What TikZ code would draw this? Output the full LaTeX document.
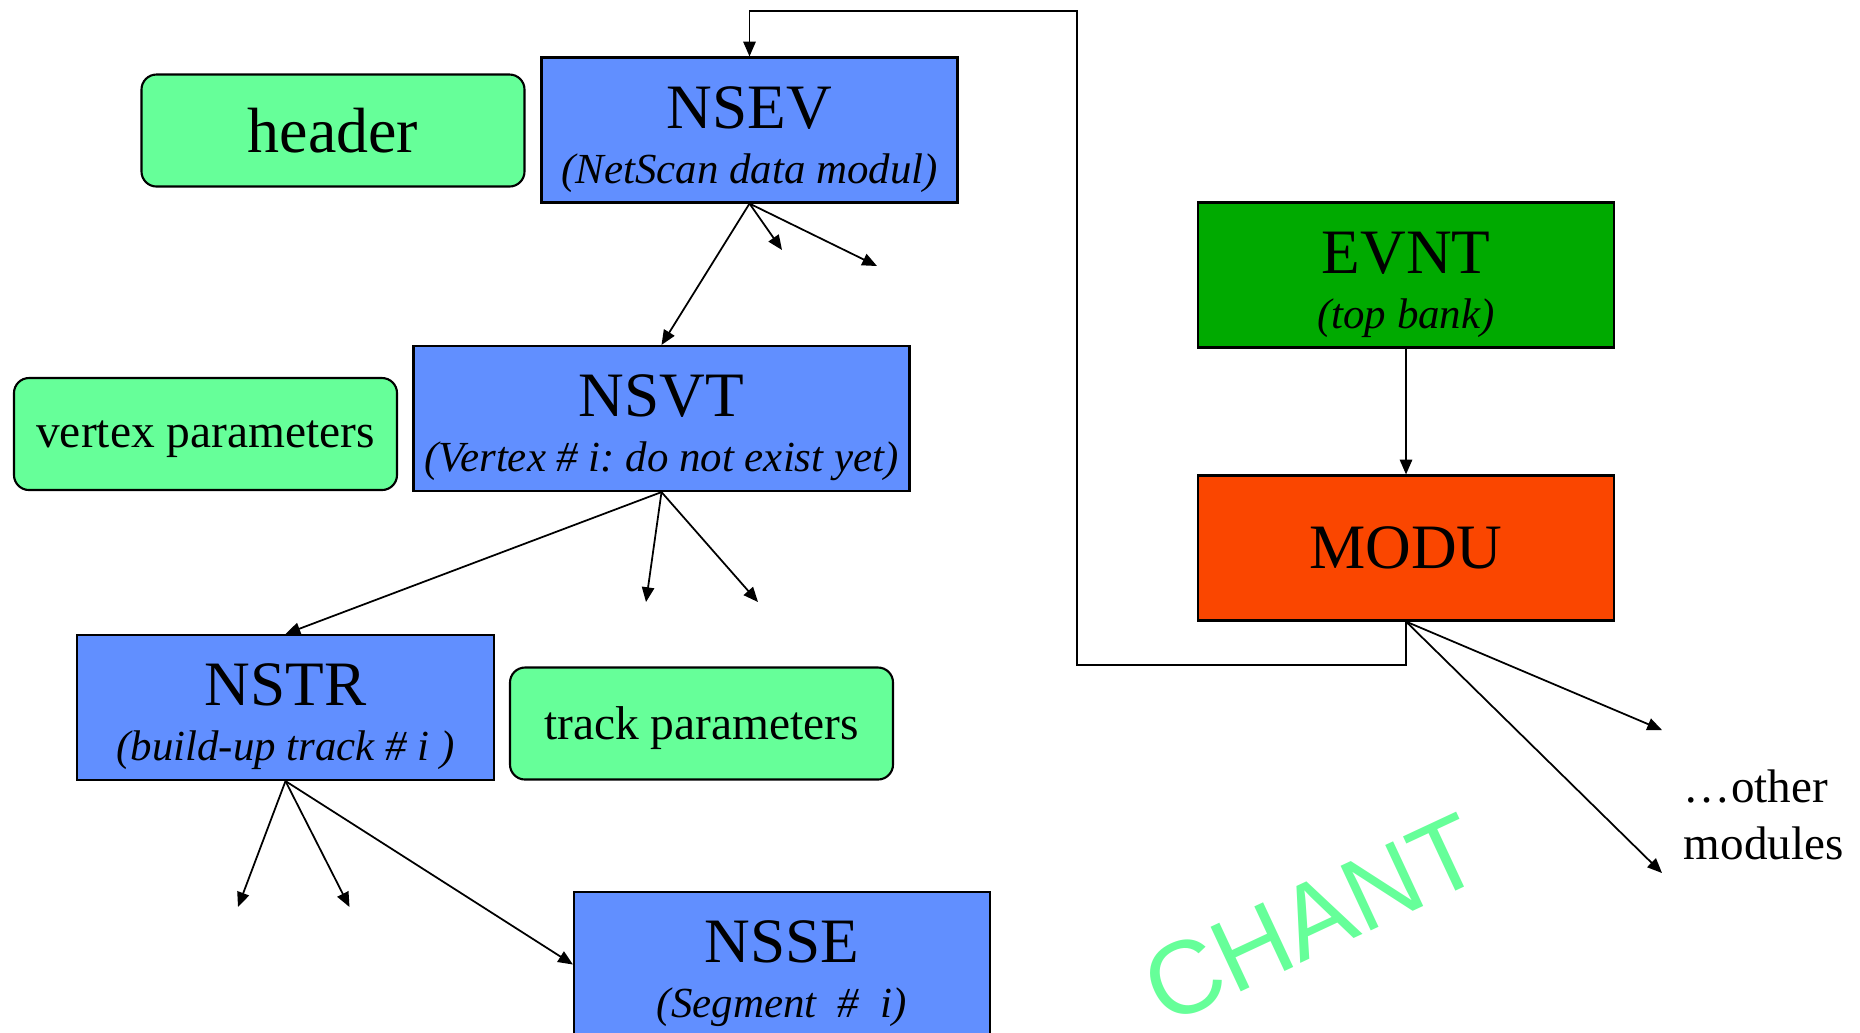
\documentclass[tikz,border=0pt]{standalone}
\usepackage{fontspec}
\setmainfont{Liberation Serif}
\newfontfamily\chantfont{Liberation Sans}
\usetikzlibrary{arrows.meta}
\definecolor{bankblue}{RGB}{97,143,255}
\definecolor{parmgreen}{RGB}{102,255,153}
\definecolor{evntgreen}{RGB}{0,170,0}
\definecolor{moduorange}{RGB}{250,70,0}
\newcommand\bankname[1]{{\upshape\fontsize{18}{15.65}\selectfont #1}}
\frenchspacing

\begin{document}
\begin{tikzpicture}[>={Triangle[length=4.2pt,width=3.5pt]},line width=0.5pt,
  bankbox/.style={draw,line width=0.6pt,fill=bankblue,minimum width=4.16cm,minimum height=1.45cm,inner sep=0pt},
  bank/.style={bankbox,align=center,text height=1.16cm,text depth=0.1cm,font=\fontsize{12.2}{15.65}\selectfont\itshape},
  parbox/.style={draw,line width=0.6pt,fill=parmgreen,rounded corners=0.15cm,minimum width=3.83cm,minimum height=1.12cm,inner sep=0pt,text depth=0pt,font=\fontsize{13.5}{16}\selectfont}]
\path[use as bounding box] (0,0) rectangle (18.6,-10.32);
\clip (0,0) rectangle (18.6,-10.32);
% left column: the NetScan banks
\node[parbox,font=\fontsize{18.2}{20}\selectfont] (header) at (3.33,-1.305) {header};
\node[bank] (nsev) at (7.495,-1.30) {\bankname{NSEV}\\(NetScan data modul)};
\node[bank,minimum width=4.96cm] (nsvt) at (6.615,-4.185) {\bankname{NSVT}\\(Vertex \# i: do not exist yet)};
\node[parbox] (vtxpar) at (2.055,-4.34) {vertex parameters};
\node[bank,minimum width=4.17cm] (nstr) at (2.855,-7.075) {\bankname{NSTR}\\(build-up track \# i )};
\node[parbox] (trkpar) at (7.015,-7.235) {track parameters};
\node[bank] (nsse) at (7.82,-9.645) {\bankname{NSSE}\\(Segment~~\#~~i)};
% right column
\node[bank,fill=evntgreen] (evnt) at (14.06,-2.75) {\bankname{EVNT}\\(top bank)};
\node[bankbox,fill=moduorange,font=\fontsize{18}{20}\selectfont] (modu) at (14.06,-5.48) {MODU};
\node[align=left,anchor=west,inner sep=0pt,font=\fontsize{13.4}{16.2}\selectfont] (others) at (16.83,-8.15) {\ldots other\\modules};
\node[rotate=25,text=parmgreen,font=\chantfont\fontsize{29.5}{31}\selectfont] (chant) at (13.12,-9.19) {CHANT};
% loose ends
\coordinate (nsevA) at (7.82,-2.50);
\coordinate (nsevB) at (8.77,-2.66);
\coordinate (nsvtA) at (6.46,-6.02);
\coordinate (nsvtB) at (7.58,-6.02);
\coordinate (nstrA) at (2.38,-9.07);
\coordinate (nstrB) at (3.495,-9.07);
\coordinate (moduA) at (16.62,-7.30);
\coordinate (moduB) at (16.62,-8.73);
\coordinate (loopA) at (10.77,-6.65);
\coordinate (loopB) at (10.77,-0.11);
% links
\draw[->] (nsev.south) -- (nsvt.north);
\draw[->] (nsvt.south) -- (nstr.north);
\draw[->] (nstr.south) -- (nsse.west);
\draw[->] (evnt.south) -- (modu.north);
\draw[->] (modu.south) |- (loopA) -- (loopB) -| (nsev.north);
\foreach \b in {nsev,nsvt,nstr,modu}
  \foreach \e in {A,B}
    \draw[->] (\b.south) -- (\b\e);
\end{tikzpicture}
\end{document}
